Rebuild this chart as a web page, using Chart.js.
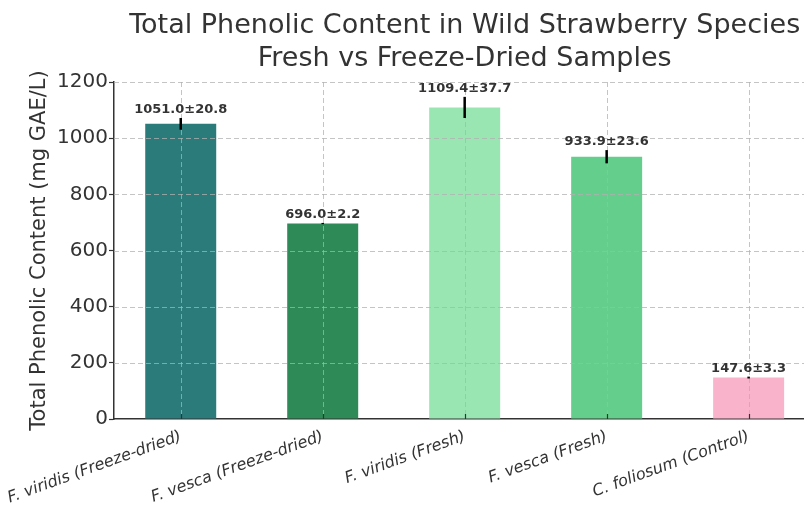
<!DOCTYPE html>
<html>
<head>
<meta charset="utf-8">
<script src="https://cdn.jsdelivr.net/npm/chart.js@4.4.1/dist/chart.umd.min.js"></script>
<style>
html, body { margin: 0; padding: 0; background: #fff; overflow: hidden; }
#wrap { width: 804px; height: 505px; }
</style>
</head>
<body>
<div id="wrap"><canvas id="phenolChart"></canvas></div>
<script>
// data
const samples = ['F. viridis (Freeze-dried)', 'F. vesca (Freeze-dried)', 'F. viridis (Fresh)', 'F. vesca (Fresh)', 'C. foliosum (Control)'];
const meanValues = [1051.0, 696.0, 1109.4, 933.9, 147.6];
const sdValues = [20.8, 2.2, 37.7, 23.6, 3.3];
const yTicks = [0, 200, 400, 600, 800, 1000, 1200];
const titleLines = ['Total Phenolic Content in Wild Strawberry Species', 'Fresh vs Freeze-Dried Samples'];

const barColors = ['#2b7b7a', '#2e8a57', '#99e6b3', '#64cf8c', '#f9b4cb'];
const FONT = '"DejaVu Sans", sans-serif';

function line(ctx, x1, y1, x2, y2) {
    ctx.beginPath();
    ctx.moveTo(x1, y1);
    ctx.lineTo(x2, y2);
    ctx.stroke();
}

// grid, error bars and labels on top of the bars (like matplotlib)
const overlayPlugin = {
    id: 'overlay',
    afterDatasetsDraw(chart) {
        const ctx = chart.ctx, area = chart.chartArea;
        const xs = chart.scales.x, ys = chart.scales.y;
        ctx.save();
        ctx.strokeStyle = 'rgba(176, 176, 176, 0.75)';
        ctx.lineWidth = 1;
        ctx.setLineDash([5, 3]);
        ys.ticks.forEach(t => {
            if (t.value === 0) return;
            const py = Math.round(ys.getPixelForValue(t.value)) + 0.5;
            line(ctx, area.left, py, area.right, py);
        });
        xs.ticks.forEach(t => {
            const px = Math.round(xs.getPixelForValue(t.value)) + 0.5;
            line(ctx, px, area.top, px, area.bottom);
        });
        ctx.setLineDash([]);

        // inward x ticks
        ctx.strokeStyle = '#333';
        ctx.lineWidth = 1.2;
        xs.ticks.forEach(t => {
            const px = Math.round(xs.getPixelForValue(t.value)) + 0.5;
            line(ctx, px, area.bottom, px, area.bottom - 5);
        });

        // error bars
        ctx.strokeStyle = '#000';
        ctx.lineWidth = 2.5;
        meanValues.forEach((m, i) => {
            const px = xs.getPixelForValue(i);
            line(ctx, px, ys.getPixelForValue(m - sdValues[i]), px, ys.getPixelForValue(m + sdValues[i]));
        });

        // value labels
        ctx.fillStyle = '#333';
        ctx.font = 'bold 13px ' + FONT;
        ctx.textAlign = 'center';
        ctx.textBaseline = 'alphabetic';
        meanValues.forEach((m, i) => {
            const px = xs.getPixelForValue(i);
            ctx.fillText(m.toFixed(1) + '±' + sdValues[i].toFixed(1), px, ys.getPixelForValue(m + sdValues[i]) - 5);
        });
        ctx.restore();
    },
    afterDraw(chart) {
        const ctx = chart.ctx;
        const cx = chart.scales.x.getPixelForValue((samples.length - 1) / 2);
        ctx.save();
        ctx.fillStyle = '#333';
        ctx.font = '27px ' + FONT;
        ctx.textAlign = 'center';
        ctx.textBaseline = 'middle';
        titleLines.forEach((t, i) => ctx.fillText(t, cx, 26 + i * 33));
        ctx.restore();
    }
};

const chart = new Chart(document.getElementById('phenolChart'), {
    type: 'bar',
    data: {
        datasets: [{
            data: meanValues.map((v, i) => ({ x: i, y: v })),
            backgroundColor: barColors,
            borderWidth: 0,
            categoryPercentage: 1,
            barPercentage: 0.5
        }]
    },
    options: {
        responsive: true,
        maintainAspectRatio: false,
        animation: false,
        layout: { padding: { top: 82, right: 0, bottom: 0, left: 0 } },
        plugins: {
            legend: { display: false },
            tooltip: { enabled: false },
            title: { display: false }
        },
        scales: {
            x: {
                type: 'linear',
                offset: false,
                min: -0.47,
                max: 4.39,
                afterBuildTicks: scale => {
                    scale.ticks = samples.map((s, i) => ({ value: i }));
                },
                afterFit: scale => {
                    scale.height = 86;
                    scale.paddingLeft = 0;
                    scale.paddingRight = 0;
                },
                grid: { offset: false, drawOnChartArea: false, drawTicks: false },
                border: { display: true, color: '#333', width: 1.5 },
                ticks: {
                    autoSkip: false,
                    minRotation: 20,
                    maxRotation: 20,
                    padding: 8,
                    color: '#333',
                    font: { family: FONT, size: 16, style: 'italic' },
                    callback: v => samples[Math.round(v)]
                }
            },
            y: {
                min: 0,
                max: 1200,
                afterBuildTicks: scale => {
                    scale.ticks = yTicks.map(v => ({ value: v }));
                },
                afterFit: scale => { scale.width = 114; },
                grid: { drawOnChartArea: false, drawTicks: true, tickLength: 5, tickColor: '#333', tickWidth: 1.2 },
                border: { display: true, color: '#333', width: 1.5 },
                ticks: {
                    padding: 1,
                    color: '#333',
                    font: { family: FONT, size: 20 },
                    callback: v => String(v)
                },
                title: {
                    display: true,
                    text: 'Total Phenolic Content (mg GAE/L)',
                    color: '#333',
                    font: { family: FONT, size: 21 },
                    padding: { top: 27, bottom: 0 }
                }
            }
        }
    },
    plugins: [overlayPlugin]
});
</script>
</body>
</html>
